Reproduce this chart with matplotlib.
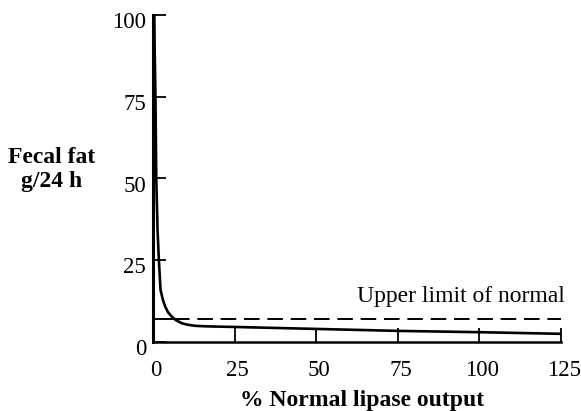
import numpy as np
import matplotlib
matplotlib.use("Agg")
import matplotlib.pyplot as plt
from matplotlib.transforms import ScaledTranslation

plt.rcParams['font.family'] = ['Liberation Serif', 'DejaVu Serif']

# fecal fat curve
lipase = [0.4, 0.5, 0.75, 1.0, 1.4, 1.8, 2.3, 3.0, 3.7, 4.6, 5.7, 7.0, 8.8, 10.5, 12.9, 16, 20, 25, 50, 75, 100, 125]
fecal_fat = [100, 90, 75, 50, 34, 25, 16, 13, 10.9, 9.1, 7.8, 6.7, 5.75, 5.3, 4.95, 4.8, 4.7, 4.6, 4.0, 3.4, 3.0, 2.5]

upper_normal = 7.0
x_ticks = [0, 25, 50, 75, 100, 125]
y_ticks = [0, 25, 50, 75, 100]

fig = plt.figure(figsize=(5.81, 4.11), dpi=100)
ax = fig.add_axes([153/581, 1 - 342/411, 408/581, 327/411])

ax.plot(lipase, fecal_fat, color='black', lw=1.9, clip_on=False, solid_capstyle='butt')

# normal limit: solid up to the curve, dashed after it
ax.plot([0, 6.5], [upper_normal, upper_normal], color='black', lw=1.4)
ax.plot([6.5, 125], [upper_normal, upper_normal], color='black', lw=1.4,
        dashes=(8, 4))
ax.text(126.2, upper_normal + 5.2, 'Upper limit of normal', ha='right', va='baseline',
        fontsize=17)

ax.set_xlim(0, 125)
ax.set_ylim(0, 100)
ax.set_xticks(x_ticks)
ax.set_yticks(y_ticks)
ax.tick_params(axis='x', direction='in', length=10, width=1.3, pad=13, labelsize=16.5)
ax.tick_params(axis='y', direction='in', length=9, width=1.3, pad=5, labelsize=16.5)

# labels in the scan sit a little below / right of their ticks
for lab in ax.get_yticklabels():
    lab.set_transform(lab.get_transform() + ScaledTranslation(0, -5/100, fig.dpi_scale_trans))
for lab in ax.get_xticklabels():
    lab.set_transform(lab.get_transform() + ScaledTranslation(3/100, 0, fig.dpi_scale_trans))

for s in ['top', 'right']:
    ax.spines[s].set_visible(False)
ax.spines['left'].set_linewidth(2.2)
ax.spines['bottom'].set_linewidth(1.8)

fig.text(362/581, 1 - 406/411, '% Normal lipase output', ha='center', va='baseline',
         fontsize=17, fontweight='bold')
fig.text(52/581, 1 - 163/411, 'Fecal fat', ha='center', va='baseline',
         fontsize=17, fontweight='bold')
fig.text(52/581, 1 - 187/411, 'g/24 h', ha='center', va='baseline',
         fontsize=17, fontweight='bold')

fig.savefig('out.png', dpi=100)
